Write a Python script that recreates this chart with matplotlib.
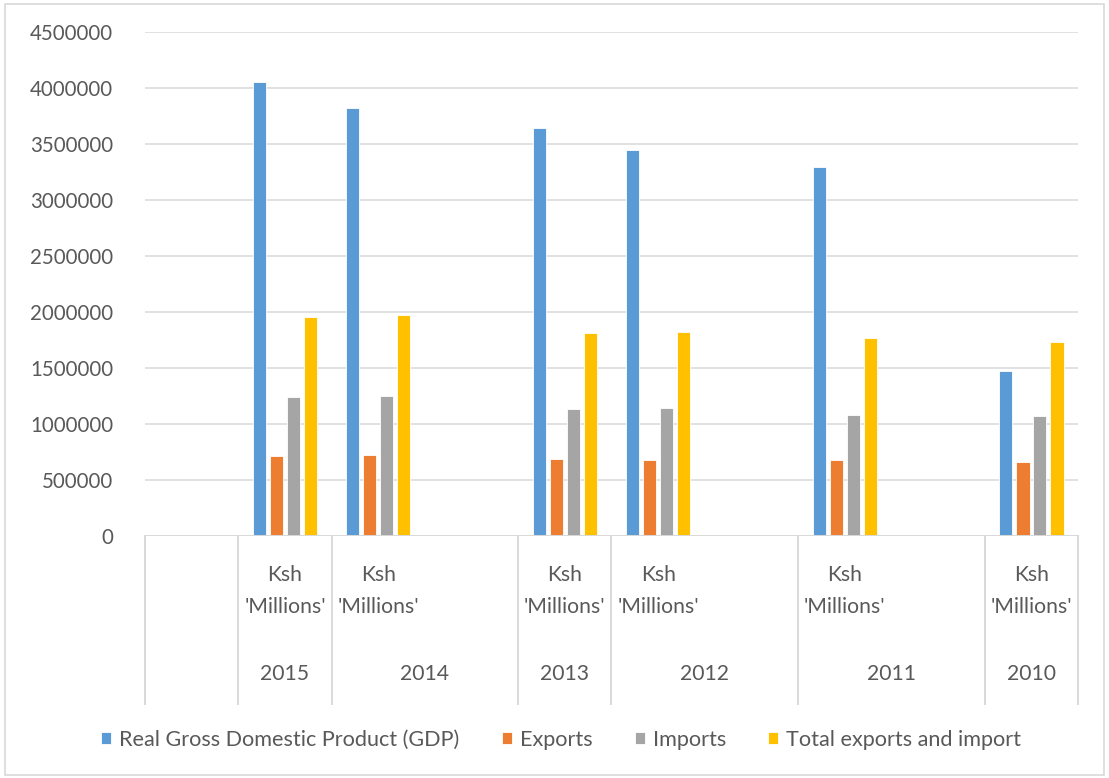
import numpy as np
import matplotlib
matplotlib.use("Agg")
import matplotlib.pyplot as plt
from matplotlib.patches import Rectangle

nan = np.nan
# Category slots (inner level) and year groups (outer level)
unit_labels = ["", "Ksh\n'Millions'", "Ksh\n'Millions'", "", "Ksh\n'Millions'",
               "Ksh\n'Millions'", "", "Ksh\n'Millions'", "", "Ksh\n'Millions'"]
group_years = ["", "2015", "2014", "2013", "2012", "2011", "2010"]
group_sizes = [1, 1, 2, 1, 2, 2, 1]

series_names = ["Real Gross Domestic Product (GDP)", "Exports", "Imports",
                "Total exports and import"]
gdp = [nan, 4050000, 3825000, nan, 3640000, 3445000, nan, 3295000, nan, 1475000]
exports = [nan, 715000, 720000, nan, 685000, 682000, nan, 682000, nan, 658000]
imports = [nan, 1238000, 1252000, nan, 1133000, 1142000, nan, 1082000, nan, 1067000]
total = [nan, 1953000, 1972000, nan, 1815000, 1825000, nan, 1770000, nan, 1728000]

colors = ["#5B9BD5", "#ED7D31", "#A5A5A5", "#FFC000"]
txt = "#595959"
grid_c = "#D9D9D9"

plt.rcParams['font.family'] = ['Lato', 'DejaVu Sans']

W, H = 1109, 778
fig = plt.figure(figsize=(W / 100, H / 100), dpi=100)
ax = fig.add_axes([145 / W, 1 - 536 / H, (1078 - 145) / W, (536 - 32) / H])

n = len(unit_labels)
x = np.arange(n) + 0.5
pitch = 17 / 93.3
bw = 13.3 / 93.3
for i, (vals, c, name) in enumerate(zip([gdp, exports, imports, total], colors, series_names)):
    ax.bar(x + (i - 1.5) * pitch, vals, width=bw, color=c, label=name,
           edgecolor="white", linewidth=0.6, zorder=3)

ax.set_xlim(0, n)
ax.set_ylim(0, 4500000)
ax.set_yticks(np.arange(0, 4500001, 500000))
ax.set_yticklabels([f"{int(v)}" for v in np.arange(0, 4500001, 500000)])
ax.tick_params(axis='y', length=0, pad=23, labelsize=14.8, labelcolor=txt)
ax.set_xticks([])
ax.grid(axis='y', color=grid_c, linewidth=1.1, zorder=0)
for s in ax.spines.values():
    s.set_visible(False)
ax.axhline(0, color=grid_c, linewidth=1.4, zorder=4)

# hierarchical category axis
trans = ax.get_xaxis_transform()
ah = 536 - 32
def yfrac(py):
    return (536 - py) / ah

bounds = np.concatenate([[0], np.cumsum(group_sizes)])
for b in bounds:
    ax.plot([b, b], [0, yfrac(704)], transform=trans, color=grid_c,
            linewidth=1.4, clip_on=False, zorder=4)
for xi, lab in zip(x, unit_labels):
    if lab:
        ax.text(xi, yfrac(591), lab, transform=trans, ha='center', va='center',
                fontsize=15.2, color=txt, linespacing=1.7)
for g, (yr, a, b) in enumerate(zip(group_years, bounds[:-1], bounds[1:])):
    if yr:
        ax.text((a + b) / 2, yfrac(674), yr, transform=trans, ha='center',
                va='center', fontsize=15.2, color=txt)

leg = fig.legend(loc='center', bbox_to_anchor=(0.506, 1 - 740 / H), ncol=4,
                 frameon=False, fontsize=15.6, handlelength=0.47, handleheight=0.47,
                 handletextpad=0.37, columnspacing=1.95, labelcolor=txt)

fig.patches.append(Rectangle((5 / W, 3 / H), (W - 10) / W, (H - 7) / H,
                             transform=fig.transFigure, fill=False,
                             edgecolor=grid_c, linewidth=1.2))

fig.savefig("out.png", dpi=100)
